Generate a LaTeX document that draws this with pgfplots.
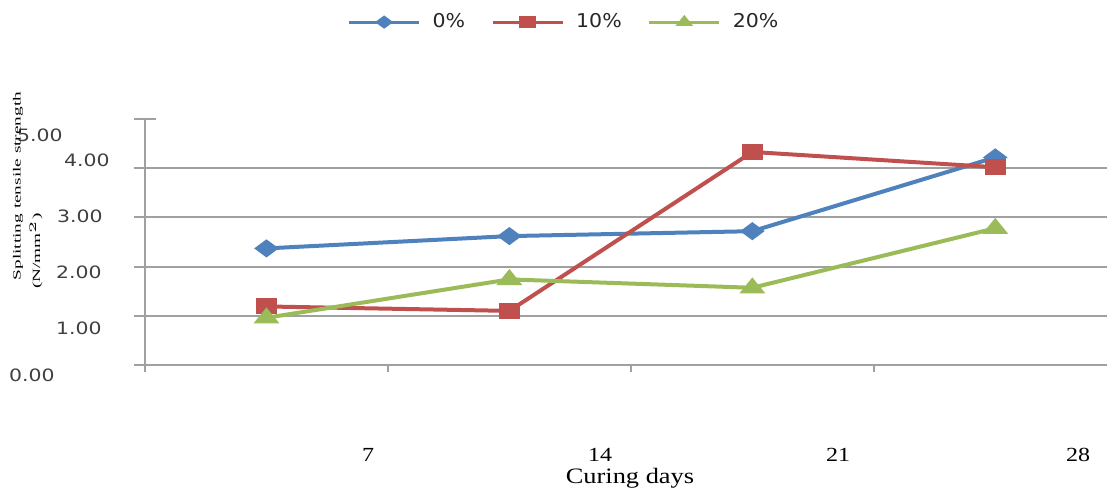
\documentclass[border=0pt]{standalone}
\usepackage{fontspec}
\usepackage{pgfplots}
\pgfplotsset{compat=1.18}
\setmainfont{Liberation Serif}[FakeStretch=1.2]
\newfontfamily\lserif{Liberation Serif}
\newfontfamily\tsans{DejaVu Sans}[FakeStretch=1.2]
\newfontfamily\lsans{DejaVu Sans}[FakeStretch=1.08]
\definecolor{sblue}{RGB}{79,129,189}
\definecolor{sred}{RGB}{192,80,77}
\definecolor{sgreen}{RGB}{155,187,89}
\definecolor{gridgray}{RGB}{160,160,160}
\begin{document}
\begin{tikzpicture}
\useasboundingbox (0,0) rectangle (553.5pt,247pt);
\begin{axis}[
  at={(72.5pt,64.5pt)}, anchor=south west,
  scale only axis, width=481pt, height=123pt,
  xmin=-0.5, xmax=3.46, ymin=0, ymax=5,
  axis lines=left, axis line style={-, draw=gridgray, line width=1pt},
  xtick=\empty,
  extra x ticks={-0.5,0.5,1.5,2.5}, extra x tick labels={},
  extra x tick style={major tick length=3.5pt, tick align=outside,
    tick style={draw=gridgray, line width=1pt}},
  ytick={0,1,2,3,4,5}, yticklabels={},
  major tick length=11pt,
  ytick align=center,
  ytick style={draw=gridgray, line width=1pt},
  extra y ticks={1,2,3,4}, extra y tick labels={},
  extra y tick style={grid=major, tick style={draw=none}},
  grid style={draw=gridgray, line width=1pt},
  clip=false,
  legend columns=3,
  legend style={at={(0.4366,1.394)}, anchor=center, draw=none, fill=none,
    font=\lsans\fontsize{9.5}{11}\selectfont, text=black!85,
    /tikz/every odd column/.append style={column sep=4pt},
    /tikz/every even column/.append style={column sep=11pt}},
  legend image code/.code={\draw[line width=1.5pt, mark repeat=2,mark phase=2, mark size=2.4pt] plot coordinates {(0pt,0pt)(17.5pt,0pt)(35pt,0pt)};},
  every axis plot/.append style={line width=2pt},
]
\addplot[color=sblue, mark=diamond*, mark size=3.3pt, mark options={xscale=1.8, solid}]
  coordinates {(0,2.37) (1,2.62) (2,2.72) (3,4.22)};
\addlegendentry{0\%}
\addplot[color=sred, mark=square*, mark size=3pt, mark options={xscale=1.4, solid}]
  coordinates {(0,1.19) (1,1.10) (2,4.33) (3,4.02)};
\addlegendentry{10\%}
\addplot[color=sgreen, mark=triangle*, mark size=3.6pt, mark options={xscale=1.4, solid}]
  coordinates {(0,0.96) (1,1.74) (2,1.57) (3,2.78)};
\addlegendentry{20\%}
\end{axis}
% y tick labels (as placed in the reference)
\begin{scope}[every node/.style={anchor=east, inner sep=0pt, font=\tsans\fontsize{8.5}{10}\selectfont, text=black!75}]
\node at (31.5pt,179.5pt) {5.00};
\node at (55pt,167pt) {4.00};
\node at (51.5pt,139pt) {3.00};
\node at (51pt,111pt) {2.00};
\node at (51pt,83pt) {1.00};
\node at (27.5pt,59.5pt) {0.00};
\end{scope}
% x tick labels
\begin{scope}[every node/.style={anchor=center, inner sep=0pt, font=\fontsize{10}{12}\selectfont}]
\node at (184pt,19.5pt) {7};
\node at (300pt,19.5pt) {14};
\node at (419pt,19.5pt) {21};
\node at (539pt,19.5pt) {28};
\end{scope}
\node[inner sep=0pt, font=\fontsize{11}{13}\selectfont] at (315pt,8pt) {Curing days};
% y axis title
\node[rotate=90, inner sep=0pt, font=\lserif\fontsize{5.5}{6.5}\selectfont] at (9pt,154pt) {\scalebox{1.75}[1]{Splitting tensile strength}};
\node[rotate=90, inner sep=0pt, font=\lserif\fontsize{5.5}{6.5}\selectfont] at (18pt,121.5pt) {\scalebox{1.75}[1]{(N/mm$^{2}$)}};
\end{tikzpicture}
\end{document}
